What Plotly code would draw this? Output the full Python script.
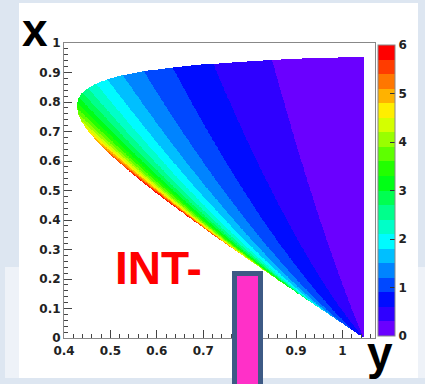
import numpy as np
import plotly.graph_objects as go

# ---------------- values ----------------
r_ratio = 0.0458          # kinematic parameter: region's leftmost edge at y = 2*sqrt(r) ~ 0.428, right edge y = 1 + r ~ 1.046
z_norm = 1.207            # normalisation: top of the colour scale (~6) reached on the lower edge
z_min, z_max, z_step = 0.0, 6.0, 0.3     # 20 contour bands
z_ticks = [0, 1, 2, 3, 4, 5, 6]
x_ticks = [0.4, 0.5, 0.6, 0.7, 0.8, 0.9, 1.0]       # horizontal axis ("y")
x_tick_text = ["0.4", "0.5", "0.6", "0.7", "0.8", "0.9", "1"]
y_ticks = [0, 0.1, 0.2, 0.3, 0.4, 0.5, 0.6, 0.7, 0.8, 0.9, 1.0]   # vertical axis ("x")
y_tick_text = ["0", "0.1", "0.2", "0.3", "0.4", "0.5", "0.6", "0.7", "0.8", "0.9", "1"]
x_range = [0.4, 1.07]
y_range = [0.0, 1.0]

# ---------------- styles ----------------
band_colors = [
    "#6a00ff", "#2f00ff", "#000cff", "#0048ff", "#0084ff", "#00bfff", "#00fbff",
    "#00ffc8", "#00ff8c", "#00ff51", "#00ff15", "#22ff00", "#5eff00", "#99ff00",
    "#d4ff00", "#ffee00", "#ffb200", "#ff7700", "#ff3c00", "#ff0000",
]
W, H = 425, 384
L, R, T, B = 64, 375, 43, 338   # plot frame in pixels


def xp(px):
    return (px - L) / (R - L)


def yp(py):
    return (B - py) / (B - T)


# ---------------- density over the kinematic region ----------------
hy = np.linspace(x_range[0], x_range[1], 720)
vx = np.linspace(y_range[0], y_range[1], 640)
Y, X = np.meshgrid(hy, vx)
r = r_ratio
with np.errstate(divide="ignore", invalid="ignore"):
    A = 1.0 - Y + r
    Bk = X - A
    inside = (X > 1e-6) & (X < 1 - r) & (Y <= 1 + r) & (Bk >= r * X / (1 - X))
    Z = z_norm * A * (X * (1 - r) - A * (1 - X)) / (X * Bk)
Z = np.where(inside, Z, np.nan).astype(np.float32)

nb = len(band_colors)
cscale = []
for i, c in enumerate(band_colors):
    cscale.append([i / nb, c])
    cscale.append([(i + 1) / nb, c])

tick_font = dict(family="DejaVu Sans", size=12, color="#222222", weight="bold")

fig = go.Figure()
fig.add_trace(go.Heatmap(
    x=hy, y=vx, z=Z, zmin=z_min, zmax=z_max, colorscale=cscale, zsmooth=False,
    hoverinfo="skip",
    colorbar=dict(
        thickness=17, thicknessmode="pixels", lenmode="pixels", len=291,
        x=xp(378), xanchor="left", xpad=0, y=yp(336), yanchor="bottom", ypad=0,
        outlinewidth=1, outlinecolor="#888888",
        tickvals=z_ticks, ticks="inside", ticklen=5, tickcolor="#333333",
        tickfont=tick_font,
    ),
))

fig.update_xaxes(
    range=x_range, tickvals=x_ticks, ticktext=x_tick_text,
    ticks="inside", ticklen=8, tickcolor="#444444", tickfont=tick_font,
    showline=True, linecolor="#888888", linewidth=1, mirror=True,
    showgrid=False, zeroline=False, ticklabelstandoff=2,
    minor=dict(ticks="inside", ticklen=4, dtick=0.02, tick0=0.4, tickcolor="#444444", showgrid=False),
)
fig.update_yaxes(
    range=y_range, tickvals=y_ticks, ticktext=y_tick_text,
    ticks="inside", ticklen=8, tickcolor="#444444", tickfont=tick_font,
    showline=True, linecolor="#888888", linewidth=1, mirror=True,
    showgrid=False, zeroline=False,
    minor=dict(ticks="inside", ticklen=4, dtick=0.02, tick0=0, tickcolor="#444444", showgrid=False),
)

shapes = [
    dict(type="rect", xref="paper", yref="paper", layer="below",
         x0=xp(19), x1=xp(418), y0=yp(3), y1=yp(378),
         fillcolor="#ffffff", line=dict(width=0)),
    dict(type="rect", xref="paper", yref="paper", layer="below",
         x0=xp(5), x1=xp(19), y0=yp(267), y1=yp(378),
         fillcolor="#eef2f8", line=dict(width=0)),
    dict(type="rect", xref="paper", yref="paper", layer="below",
         x0=xp(418), x1=xp(440), y0=yp(267), y1=yp(378),
         fillcolor="#eef2f8", line=dict(width=0)),
    dict(type="rect", xref="paper", yref="paper", layer="above",
         x0=xp(234.5), x1=xp(260.5), y0=yp(273.5), y1=yp(400),
         fillcolor="#ff30c8", line=dict(width=5, color="#3d5a85")),
]

big = dict(family="Liberation Sans", size=46, color="#000000", weight="bold")
annotations = [
    dict(text="x", xref="paper", yref="paper", x=xp(20), y=yp(30),
         xanchor="left", yanchor="middle", showarrow=False, font=big),
    dict(text="y", xref="paper", yref="paper", x=xp(365), y=yp(353),
         xanchor="left", yanchor="middle", showarrow=False, font=big),
    dict(text="INT-", xref="paper", yref="paper", x=xp(113), y=yp(268),
         xanchor="left", yanchor="middle", showarrow=False,
         font=dict(family="Liberation Sans", size=46, color="#ff0000", weight="bold")),
]

fig.update_layout(
    width=W, height=H, autosize=False,
    margin=dict(l=L, r=W - R, t=T, b=H - B, pad=0),
    paper_bgcolor="#dde6f1", plot_bgcolor="#ffffff",
    shapes=shapes, annotations=annotations, showlegend=False,
)

fig.write_html("out.html")
